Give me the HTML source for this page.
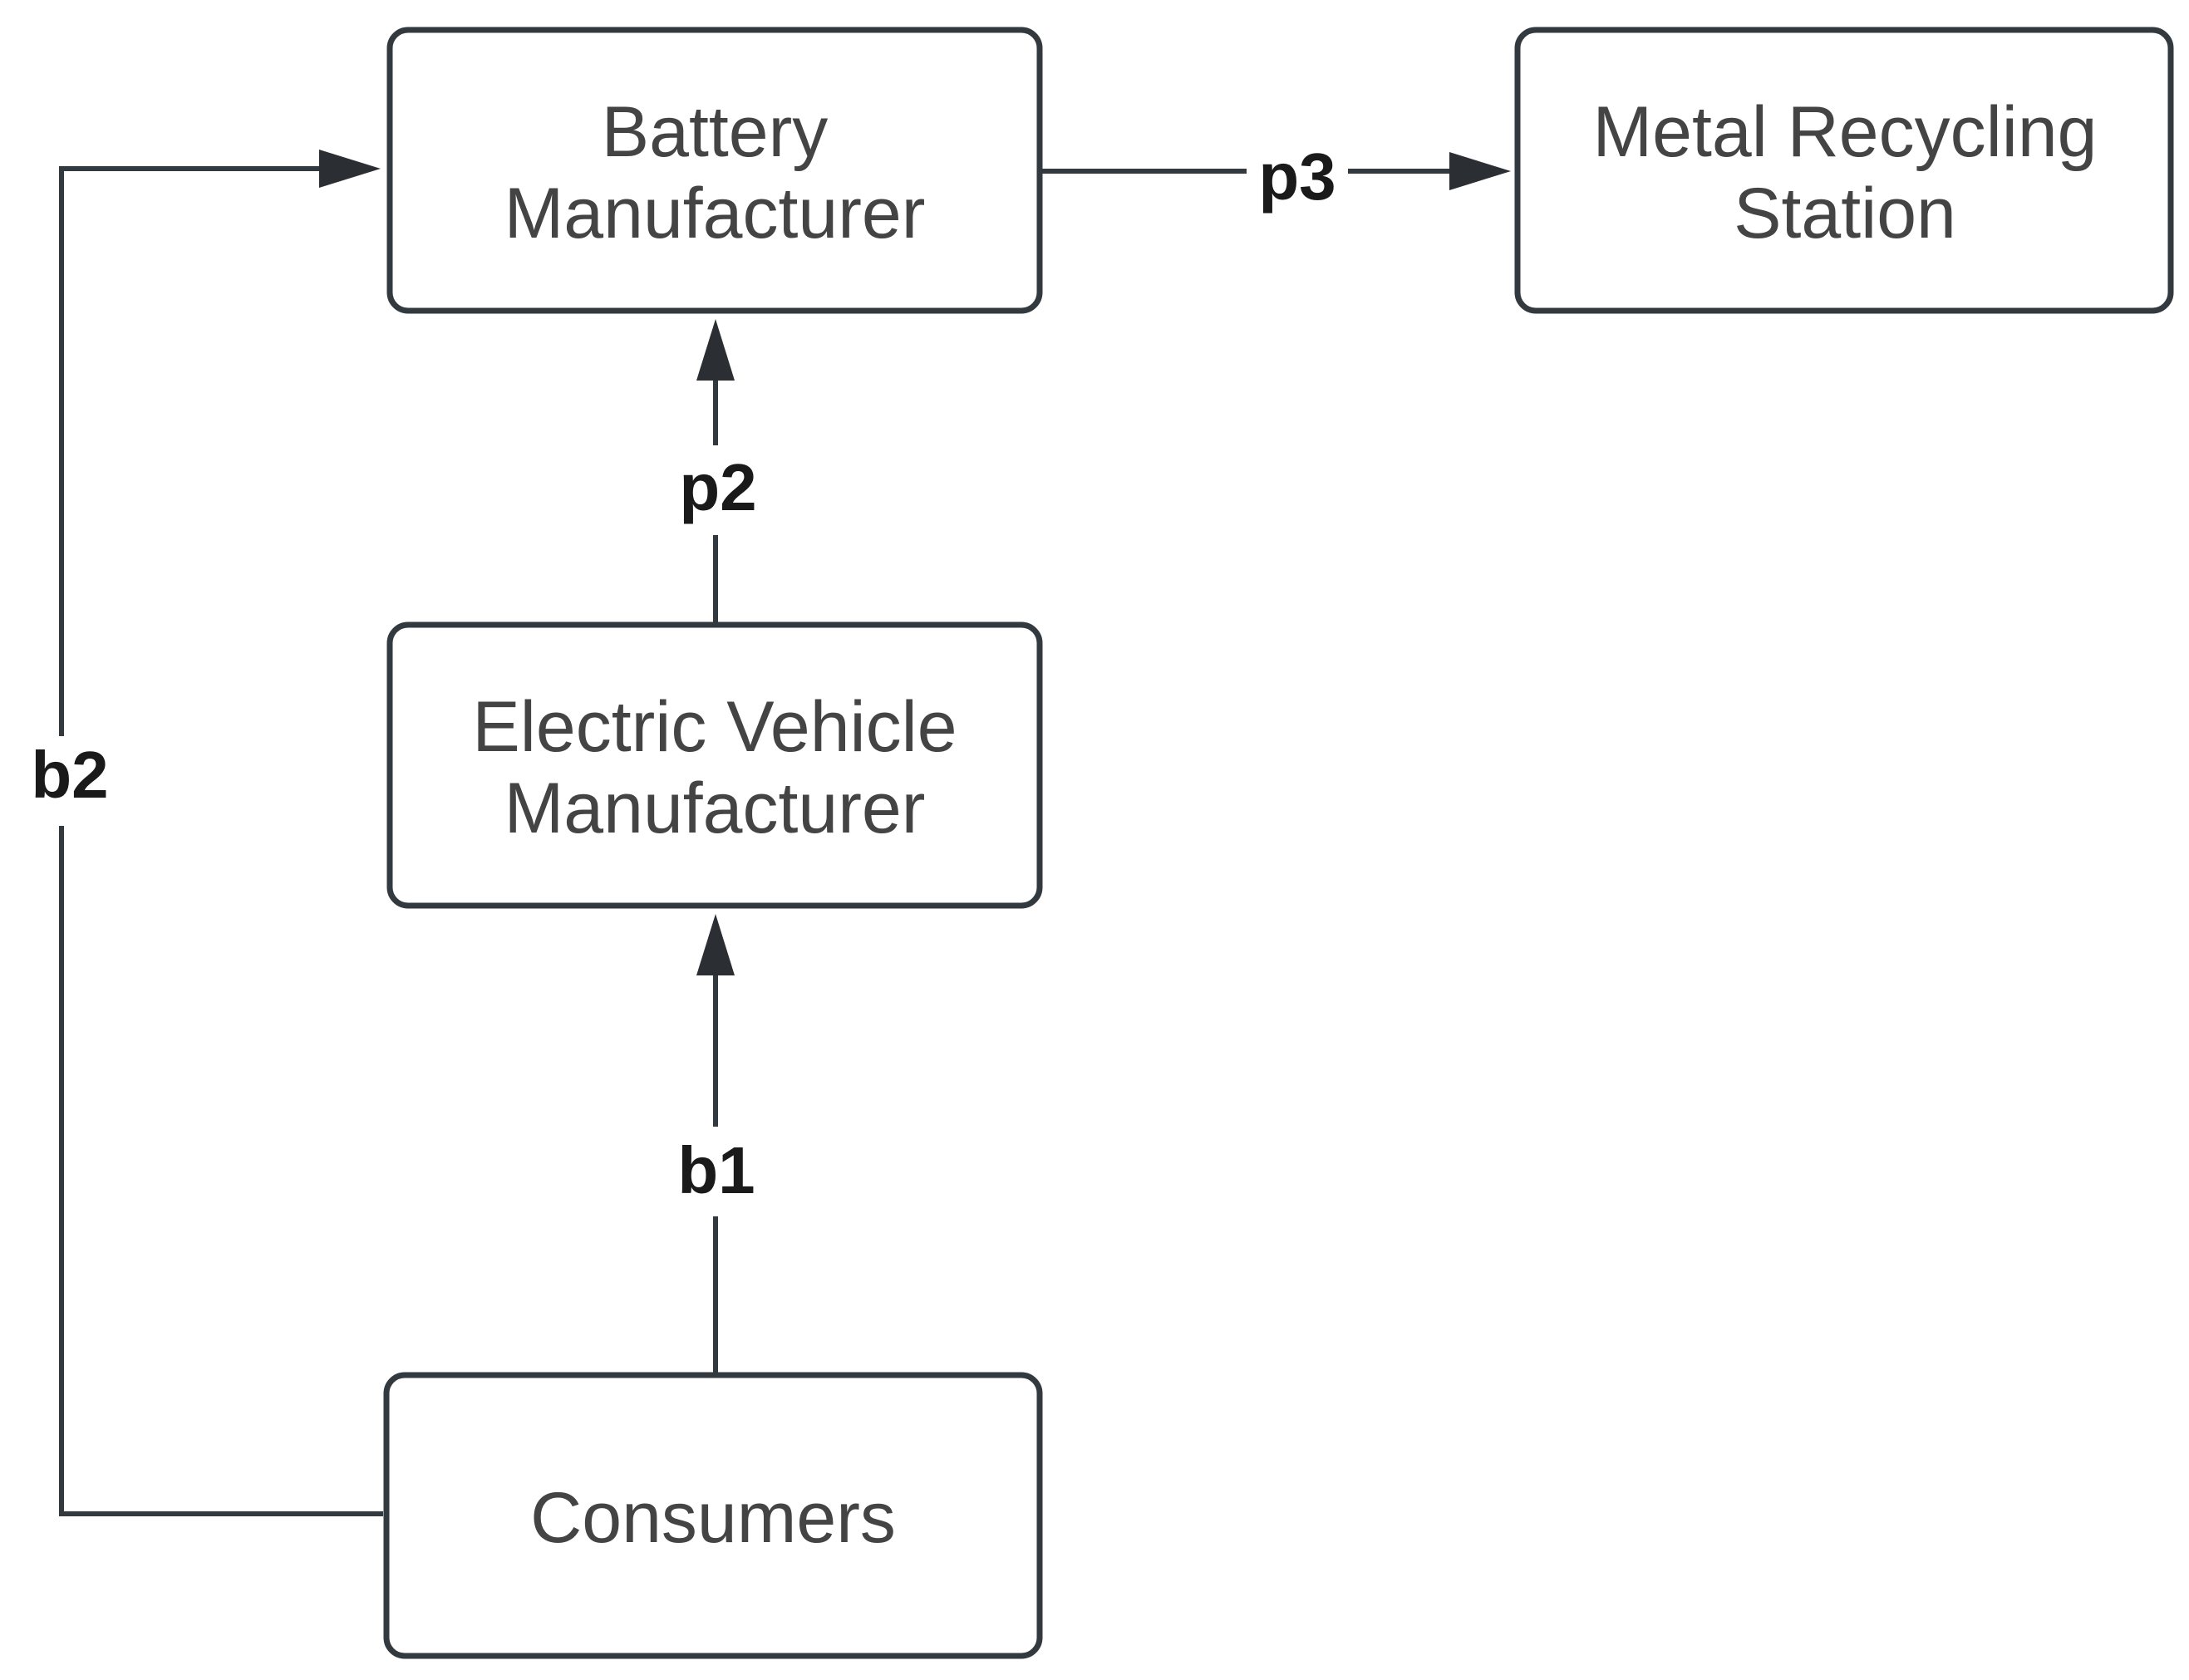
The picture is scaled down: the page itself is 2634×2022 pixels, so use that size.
<!DOCTYPE html>
<html><head><meta charset="utf-8"><style>
html,body{margin:0;padding:0;background:#fff;}
svg{display:block;}
</style></head><body>
<svg width="2634" height="2022" viewBox="0 0 2634 2022" xmlns="http://www.w3.org/2000/svg">
<g fill="#fff" stroke="#333a3f" stroke-width="7">
<rect x="469" y="36" width="782" height="338" rx="22"/>
<rect x="1826" y="36" width="786" height="338" rx="22"/>
<rect x="469" y="752" width="782" height="338" rx="22"/>
<rect x="465" y="1655" width="786" height="338" rx="22"/>
</g>
<g stroke="#333a3f" stroke-width="6" fill="none">
<polyline points="461,1822 74,1822 74,203 400,203"/>
<line x1="1251" y1="206" x2="1760" y2="206"/>
<line x1="861" y1="752" x2="861" y2="440"/>
<line x1="861" y1="1655" x2="861" y2="1150"/>
</g>
<g fill="#2b2f33">
<polygon points="458,203 384,180 384,226"/>
<polygon points="1818,206 1744,183 1744,229"/>
<polygon points="861,384 838,458 884,458"/>
<polygon points="861,1100 838,1174 884,1174"/>
</g>
<g fill="#fff">
<rect x="36" y="886" width="80" height="108"/>
<rect x="1500" y="166" width="122" height="84"/>
<rect x="796" y="536" width="130" height="108"/>
<rect x="796" y="1356" width="130" height="108"/>
</g>
<g font-family="'Liberation Sans',sans-serif" font-weight="bold" font-size="80" fill="#1a1a1a" text-anchor="middle">
<text x="84" y="960">b2</text>
<text x="1561" y="240">p3</text>
<text x="864" y="614">p2</text>
<text x="862" y="1436">b1</text>
</g>
<g font-family="'Liberation Sans',sans-serif" font-size="86" fill="#444" text-anchor="middle">
<text x="860" y="188">Battery</text>
<text x="860" y="286">Manufacturer</text>
<text x="2220" y="188">Metal Recycling</text>
<text x="2220" y="286">Station</text>
<text x="860" y="904">Electric Vehicle</text>
<text x="860" y="1002">Manufacturer</text>
<text x="858" y="1856">Consumers</text>
</g>
</svg>
</body></html>
